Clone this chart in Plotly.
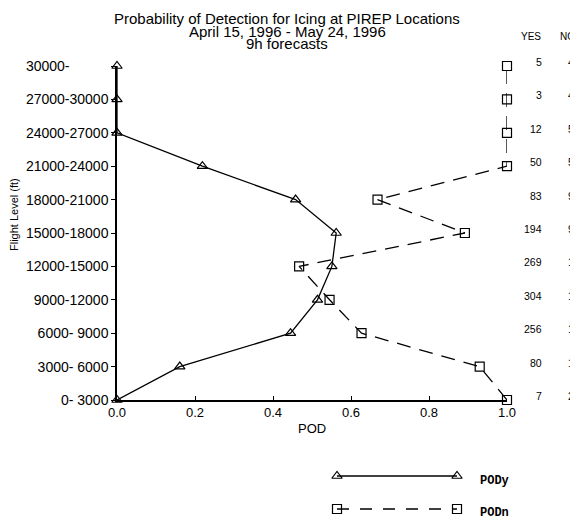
import plotly.graph_objects as go

# ---------------- data ----------------
levels = ["0- 3000", "3000- 6000", "6000- 9000", "9000-12000", "12000-15000",
          "15000-18000", "18000-21000", "21000-24000", "24000-27000",
          "27000-30000", "30000-"]
pod_y = [0.0, 0.161, 0.445, 0.514, 0.551, 0.562, 0.458, 0.219, 0.0, 0.0, 0.0]
pod_n = [1.0, 0.930, 0.627, 0.545, 0.467, 0.892, 0.668, 1.0, 1.0, 1.0, 1.0]
yes_counts = [7, 80, 256, 304, 269, 194, 83, 50, 12, 3, 5]
no_counts = [263, 1425, 1046, 1187, 1532, 958, 912, 547, 523, 436, 412]
x_ticks = [0.0, 0.2, 0.4, 0.6, 0.8, 1.0]
title_lines = ["Probability of Detection for Icing at PIREP Locations",
               "April 15, 1996 - May 24, 1996",
               "9h forecasts"]

# fixed-width style tick labels (the open-ended top level is left padded)
tick_text = [lv if len(lv) > 6 else lv + "\u00a0" * 10 for lv in levels]

# ---------------- layout geometry (pixels) ----------------
W, H = 570, 519
L, R, T = 117, 63, 66
PAPER_BOTTOM = 511          # observed bottom of the paper area
AX_BOTTOM = 400
plot_h = PAPER_BOTTOM - T
ydom0 = (PAPER_BOTTOM - AX_BOTTOM) / plot_h
y2dom = 0.24


def px_x(px):
    return (px - L) / (W - L - R)


def px_y(py):
    return (PAPER_BOTTOM - py) / plot_h


FONT = "Liberation Sans, Arial, sans-serif"

fig = go.Figure()

fig.add_trace(go.Scatter(
    x=pod_y, y=levels, mode="lines+markers", name="PODy",
    line=dict(color="black", width=1.3),
    marker=dict(symbol="triangle-up-open", size=9, color="black",
                line=dict(width=1.2, color="black")),
    cliponaxis=False, showlegend=False))

fig.add_trace(go.Scatter(
    x=pod_n, y=levels, mode="lines+markers", name="PODn",
    line=dict(color="black", width=1.3, dash="14px,9px"),
    marker=dict(symbol="square-open", size=9, color="black",
                line=dict(width=1.2, color="black")),
    cliponaxis=False, showlegend=False))

# legend samples drawn in a secondary axis below the plot
leg_x = [px_x(337), px_x(457)]
fig.add_trace(go.Scatter(
    x=leg_x, y=[PAPER_BOTTOM - 476] * 2, xaxis="x2", yaxis="y2",
    mode="lines+markers", line=dict(color="black", width=1.3),
    marker=dict(symbol="triangle-up-open", size=9, color="black",
                line=dict(width=1.2, color="black")),
    showlegend=False, hoverinfo="skip", cliponaxis=False))
fig.add_trace(go.Scatter(
    x=leg_x, y=[PAPER_BOTTOM - 509] * 2, xaxis="x2", yaxis="y2",
    mode="lines+markers", line=dict(color="black", width=1.3, dash="12px,11px"),
    marker=dict(symbol="square-open", size=9, color="black",
                line=dict(width=1.2, color="black")),
    showlegend=False, hoverinfo="skip", cliponaxis=False))

annotations = []
# title lines
for txt, py in zip(title_lines, [18.5, 31, 43.5]):
    annotations.append(dict(text=txt, xref="paper", yref="paper",
                            x=px_x(287), y=px_y(py), xanchor="center",
                            yanchor="middle", showarrow=False,
                            font=dict(size=15, family=FONT, color="black")))
# axis titles
annotations.append(dict(text="Flight Level (ft)", xref="paper", yref="paper",
                        x=px_x(14), y=px_y(215), textangle=-90,
                        xanchor="center", yanchor="middle", showarrow=False,
                        font=dict(size=11, family=FONT, color="black")))
annotations.append(dict(text="POD", xref="paper", yref="paper",
                        x=px_x(312), y=px_y(428), xanchor="center",
                        yanchor="middle", showarrow=False,
                        font=dict(size=13, family=FONT, color="black")))
# count columns
annotations.append(dict(text="YES", xref="paper", yref="paper",
                        x=px_x(531), y=px_y(37), xanchor="center",
                        yanchor="middle", showarrow=False,
                        font=dict(size=10, family=FONT, color="black")))
annotations.append(dict(text="NO", xref="paper", yref="paper",
                        x=px_x(558), y=px_y(37), xanchor="left",
                        yanchor="middle", showarrow=False,
                        font=dict(size=10, family=FONT, color="black")))
for i, (yv, nv) in enumerate(zip(yes_counts, no_counts)):
    annotations.append(dict(text=str(yv), xref="paper", yref="y",
                            x=px_x(544), y=i, yshift=4, xanchor="right",
                            yanchor="middle", showarrow=False,
                            font=dict(size=10.5, family=FONT, color="black")))
    annotations.append(dict(text=str(nv), xref="paper", yref="y",
                            x=px_x(566), y=i, yshift=4, xanchor="left",
                            yanchor="middle", showarrow=False,
                            font=dict(size=10.5, family=FONT, color="black")))
# legend labels
for txt, py in [("PODy", 481), ("PODn", 513)]:
    annotations.append(dict(text="<b>" + txt + "</b>", xref="paper", yref="paper",
                            x=px_x(478), y=px_y(py), xanchor="left",
                            yanchor="middle", showarrow=False,
                            font=dict(size=12, family="Liberation Mono, Courier New, monospace",
                                      color="black")))

fig.update_layout(
    width=W, height=H,
    margin=dict(l=L, r=R, t=T, b=0, pad=0),
    paper_bgcolor="white", plot_bgcolor="rgba(0,0,0,0)",
    font=dict(family=FONT, color="black", size=13),
    showlegend=False,
    xaxis=dict(range=[0, 1], tickvals=x_ticks, tickformat=".1f",
               ticks="inside", ticklen=4, tickwidth=1.2, tickcolor="black",
               showline=True, linecolor="black", linewidth=1.5,
               showgrid=False, zeroline=False, anchor="y",
               tickfont=dict(size=13, family=FONT, color="black")),
    yaxis=dict(type="category", categoryorder="array", categoryarray=levels,
               tickvals=levels, ticktext=tick_text,
               range=[0, 10], domain=[ydom0, 1], anchor="x",
               ticks="outside", ticklen=4, tickwidth=1.2, tickcolor="black",
               showline=True, linecolor="black", linewidth=1.5,
               showgrid=False, zeroline=False,
               tickfont=dict(size=14, family=FONT, color="black")),
    xaxis2=dict(range=[0, 1], domain=[0, 1], anchor="y2", visible=False,
                fixedrange=True),
    yaxis2=dict(range=[0, y2dom * plot_h], domain=[0, y2dom], anchor="x2",
                visible=False, fixedrange=True),
    annotations=annotations,
)

fig.write_html("out.html")
